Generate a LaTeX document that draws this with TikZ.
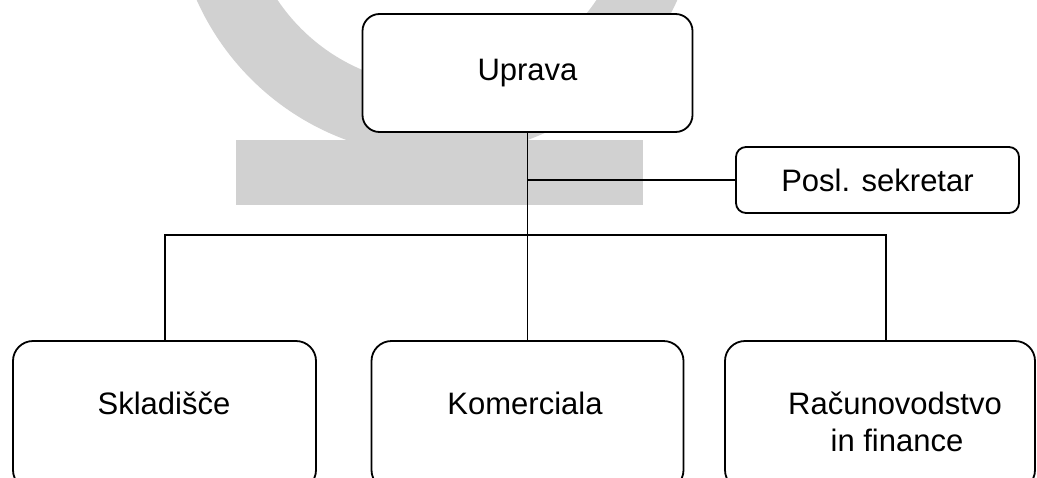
\documentclass[tikz,border=0pt]{standalone}
\usepackage{fontspec}
\setmainfont{Liberation Sans}
\begin{document}
\begin{tikzpicture}[x=1pt,y=-1pt,
  box/.style={draw, line width=1.8pt, rounded corners=#1, fill=white, inner sep=0pt},
  conn/.style={draw, line width=1.4pt},
  big/.style={font=\fontsize{31pt}{37pt}\selectfont},
  lbl/.style={inner sep=0pt, big},
  wm/.style={fill=black!18}]
\useasboundingbox (0,0) rectangle (1037,477);
\clip (0,0) rectangle (1037,477);
% scanned watermark
\fill[wm, even odd rule] (437,-107) circle (263pt) (437,-107) circle (192pt);
\fill[wm] (236,140) rectangle (643,205);
% connectors
\coordinate (busL) at (165,235);
\coordinate (busR) at (886,235);
\node[box=10pt, minimum width=283pt, minimum height=66pt, big] (posl) at (877.5,180) {Posl. sekretar};
\node[box=17pt, minimum width=330pt, minimum height=118pt, big] (uprava) at (527.5,73) {Uprava};
\node[box=20pt, minimum width=303pt, minimum height=149pt] (sklad) at (164.5,415.5) {};
\node[box=20pt, minimum width=312pt, minimum height=149pt] (komer) at (527.5,415.5) {};
\node[box=20pt, minimum width=310pt, minimum height=149pt] (racun) at (880,415.5) {};
\draw[conn] (uprava.south) -- (komer.north);
\draw[conn] (uprava.south |- posl.west) -- (posl.west);
\draw[conn] (busL |- sklad.north) -- (busL) -- (busR) -- (busR |- racun.north);
% labels
\node[lbl, anchor=base] (skladt) at (164,414) {Skladišče};
\node[lbl, anchor=base] (komert) at (525,414) {Komerciala};
\node[lbl, anchor=base] (racunt) at (895,414) {Računovodstvo};
\node[lbl, anchor=base] (racunt2) at (897,451) {in finance};
\end{tikzpicture}
\end{document}
